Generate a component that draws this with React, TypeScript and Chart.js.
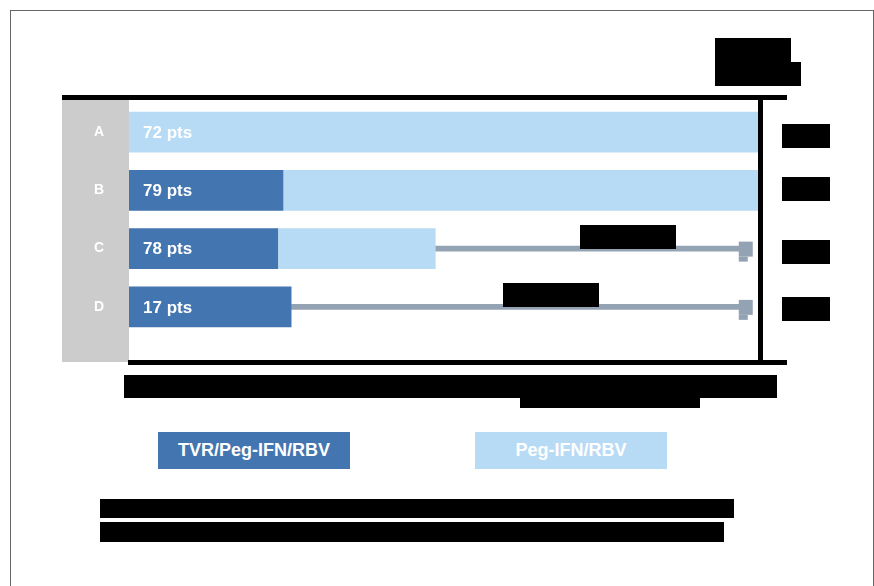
import React, { useEffect, useRef } from 'react';
import { Chart, registerables } from 'chart.js';

Chart.register(...registerables);

const categories = ['A', 'B', 'C', 'D'];
const patientLabels = ['72 pts', '79 pts', '78 pts', '17 pts'];
const tvrEnd: (number | null)[] = [null, 11.8, 11.4, 12.4];
const pegStart: (number | null)[] = [0, 11.8, 11.4, null];
const pegEnd: (number | null)[] = [48, 48, 23.4, null];
const followStart: (number | null)[] = [null, null, 23.0, 12.4];
const followEnd: (number | null)[] = [null, null, 47.6, 47.6];
const axisMax = 48;
const legendLabels = ['TVR/Peg-IFN/RBV', 'Peg-IFN/RBV'];

const DARK = '#4375b0';
const LIGHT = '#b8dbf5';
const GREY = '#94a3b3';
const FONT = '"Liberation Sans", Arial, sans-serif';

const redactions = [
  [715, 38, 76, 24],
  [715, 62, 86, 24],
  [782, 124, 48, 24],
  [782, 177, 48, 24],
  [782, 240, 48, 24],
  [782, 297, 48, 24],
  [580, 225, 96, 24],
  [503, 283, 96, 24],
  [124, 375, 653, 23],
  [520, 398, 180, 10],
  [100, 499, 634, 19],
  [100, 522, 624, 20],
];

const decorPlugin = {
  id: 'decor',
  beforeDatasetsDraw(chart: any) {
    const { ctx, chartArea } = chart;
    ctx.save();
    ctx.fillStyle = '#cccccc';
    ctx.fillRect(chartArea.left - 67, chartArea.top - 3, 67, 262);
    ctx.restore();
  },
  afterDatasetsDraw(chart: any) {
    const { ctx, chartArea } = chart;
    const xs = chart.scales.x;
    const ys = chart.scales.y;
    ctx.save();
    // frame lines
    ctx.fillStyle = '#000';
    ctx.fillRect(chartArea.left - 67, chartArea.top - 8, 725, 5);
    ctx.fillRect(chartArea.left - 1, chartArea.top + 257, 659, 5);
    ctx.fillRect(chartArea.right, chartArea.top - 8, 5, 270);
    // arrow ends
    ctx.fillStyle = GREY;
    categories.forEach((_, i) => {
      if (followEnd[i] == null) return;
      const ex = xs.getPixelForValue(followEnd[i] as number);
      const cy = ys.getPixelForValue(i);
      ctx.fillRect(ex - 14, cy - 7, 14, 15);
      ctx.fillRect(ex - 14, cy + 8, 9, 5);
    });
    // category labels
    ctx.fillStyle = '#ffffff';
    ctx.textAlign = 'center';
    ctx.textBaseline = 'middle';
    ctx.font = `bold 14px ${FONT}`;
    categories.forEach((c, i) => {
      ctx.fillText(c, chartArea.left - 30, ys.getPixelForValue(i));
    });
    // patient labels
    ctx.textAlign = 'left';
    ctx.font = `bold 17px ${FONT}`;
    patientLabels.forEach((t, i) => {
      ctx.fillText(t, xs.getPixelForValue(0) + 14, ys.getPixelForValue(i) + 1);
    });
    ctx.restore();
  },
};

export default function App() {
  const ref = useRef<HTMLCanvasElement>(null);
  useEffect(() => {
    if (!ref.current) return;
    const chart = new Chart(ref.current, {
      type: 'bar',
      data: {
        labels: categories,
        datasets: [
          {
            label: legendLabels[1],
            data: categories.map((_, i) =>
              pegStart[i] == null ? null : [pegStart[i], pegEnd[i]]
            ) as any,
            backgroundColor: LIGHT,
            grouped: false,
            barPercentage: 0.7,
            categoryPercentage: 1,
          } as any,
          {
            label: legendLabels[0],
            data: categories.map((_, i) => (tvrEnd[i] == null ? null : [0, tvrEnd[i]])) as any,
            backgroundColor: DARK,
            grouped: false,
            barPercentage: 0.7,
            categoryPercentage: 1,
          } as any,
          {
            label: 'follow-up',
            data: categories.map((_, i) =>
              followStart[i] == null ? null : [followStart[i], (followEnd[i] as number) - 1]
            ) as any,
            backgroundColor: GREY,
            grouped: false,
            barThickness: 5,
          } as any,
        ],
      },
      options: {
        indexAxis: 'y',
        responsive: false,
        animation: false,
        devicePixelRatio: 1,
        layout: { padding: { left: 129, right: 116, top: 103, bottom: 250 } },
        plugins: { legend: { display: false }, tooltip: { enabled: false } },
        scales: {
          x: { display: false, min: 0, max: axisMax },
          y: { display: false },
        },
      },
      plugins: [decorPlugin],
    });
    return () => chart.destroy();
  }, []);

  const legendBox = (left: number, bg: string, text: string) => (
    <div
      style={{
        position: 'absolute',
        left,
        top: 432,
        width: 192,
        height: 37,
        background: bg,
        color: '#fff',
        fontFamily: FONT,
        fontWeight: 'bold',
        fontSize: 18,
        display: 'flex',
        alignItems: 'center',
        justifyContent: 'center',
      }}
    >
      {text}
    </div>
  );

  return (
    <div
      style={{
        position: 'absolute',
        left: 0,
        top: 0,
        width: 874,
        height: 586,
        overflow: 'hidden',
        background: '#fff',
      }}
    >
      <div
        style={{
          position: 'absolute',
          left: 10,
          top: 10,
          width: 862,
          height: 600,
          border: '1px solid #666',
        }}
      />
      <canvas
        ref={ref}
        width={874}
        height={586}
        style={{ position: 'absolute', left: 0, top: 0, width: 874, height: 586 }}
      />
      {redactions.map(([l, t, w, h], i) => (
        <div
          key={i}
          style={{ position: 'absolute', left: l, top: t, width: w, height: h, background: '#000' }}
        />
      ))}
      {legendBox(158, DARK, legendLabels[0])}
      {legendBox(475, LIGHT, legendLabels[1])}
    </div>
  );
}
